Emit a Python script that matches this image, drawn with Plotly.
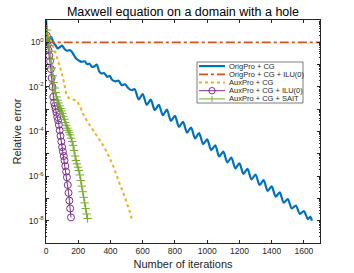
import plotly.graph_objects as go

# ---------------- data (error values as log10) ----------------
orig_cg_iter = [0, 6, 15, 25, 33, 45, 58, 72, 85, 100, 115, 130, 145, 160, 175, 190, 205, 220,
                240, 255, 270, 285, 300, 315, 330, 345, 360, 380, 395, 410, 430, 450, 470, 490,
                510, 530, 550, 575, 600, 625, 650, 675, 700, 725, 750, 775, 800, 825, 850, 875,
                900, 925, 950, 975, 1000, 1025, 1050, 1075, 1100, 1125, 1150, 1175, 1200, 1225,
                1250, 1275, 1300, 1325, 1350, 1375, 1400, 1425, 1450, 1475, 1500, 1525, 1550,
                1575, 1600, 1625, 1640, 1650]
orig_cg_log10 = [1.3, 0.3, 0.05, 0.1, 0.25, 0.0, -0.12, -0.28, -0.22, -0.15, -0.3, -0.38, -0.35,
                 -0.42, -0.6, -0.75, -0.82, -0.88, -0.85, -0.98, -0.96, -1.1, -1.08, -1.0, -1.3,
                 -1.4, -1.38, -1.55, -1.5, -1.68, -1.75, -1.72, -1.92, -1.88, -2.05, -2.15,
                 -2.1, -2.56, -2.32, -2.81, -2.57, -3.04, -2.8, -3.27, -3.02, -3.52, -3.3,
                 -3.79, -3.57, -4.05, -3.82, -4.31, -4.07, -4.57, -4.35, -4.84, -4.62, -5.12,
                 -4.9, -5.39, -5.17, -5.65, -5.43, -5.9, -5.68, -6.15, -5.93, -6.4, -6.18,
                 -6.66, -6.46, -6.92, -6.73, -7.19, -7.03, -7.45, -7.32, -7.7, -7.57, -7.93,
                 -7.83, -8.0]

orig_ilu_iter = [0, 5, 10, 50, 1700]
orig_ilu_log10 = [0.0, 0.02, 0.0, 0.0, 0.0]

aux_cg_iter = [0, 5, 12, 25, 40, 60, 80, 95, 110, 125, 140, 160, 190, 210, 230, 260, 300, 340,
               380, 420, 460, 490, 520, 535]
aux_cg_log10 = [0.0, 0.45, 0.3, 0.1, -0.1, -0.5, -0.95, -1.3, -1.75, -2.3, -2.5, -2.55, -2.62,
                -2.85, -3.2, -3.6, -4.0, -4.45, -4.95, -5.6, -6.4, -6.95, -7.6, -8.0]

aux_ilu_iter = [0, 5, 10, 15, 20, 25, 30, 35, 40, 45, 50, 55, 60, 65, 70, 75, 80, 85, 90, 95,
                100, 105, 110, 115, 120, 125, 130, 135, 140, 145, 150, 155]
aux_ilu_log10 = [0.0, 0.3, -0.1, -0.35, -0.6, -0.85, -1.2, -1.6, -2.0, -2.45, -2.7, -2.85,
                 -3.0, -3.15, -3.35, -3.5, -3.7, -3.95, -4.2, -4.45, -4.7, -4.9, -5.1, -5.3,
                 -5.55, -5.8, -6.05, -6.4, -6.75, -7.1, -7.45, -7.85]

aux_sait_iter = [0, 6, 12, 18, 24, 30, 36, 42, 48, 54, 60, 66, 72, 78, 84, 90, 96, 102, 108,
                 114, 120, 126, 132, 138, 144, 150, 156, 162, 168, 174, 180, 186, 192, 198,
                 204, 210, 216, 222, 228, 234, 240, 246, 252, 258]
aux_sait_log10 = [0.0, 0.55, 0.2, -0.15, -0.4, -0.75, -1.15, -1.5, -1.8, -2.05, -2.25, -2.45,
                  -2.6, -2.72, -2.85, -2.97, -3.08, -3.2, -3.32, -3.45, -3.6, -3.72, -3.85,
                  -3.95, -4.05, -4.15, -4.3, -4.45, -4.62, -4.85, -5.1, -5.3, -5.45, -5.6,
                  -5.75, -5.95, -6.2, -6.45, -6.7, -6.95, -7.2, -7.45, -7.7, -7.9]

series_names = ["OrigPro + CG", "OrigPro + CG + ILU(0)", "AuxPro + CG",
                "AuxPro + CG + ILU(0)", "AuxPro + CG + SAIT"]

x_tick_vals = [0, 200, 400, 600, 800, 1000, 1200, 1400, 1600]
y_tick_exps = [1, 0, -1, -2, -3, -4, -5, -6, -7, -8, -9]
y_label_exps = [0, -2, -4, -6, -8]

# ---------------- styling ----------------
C_BLUE, C_ORANGE, C_YELLOW, C_PURPLE, C_GREEN = "#0072BD", "#D95319", "#EDB120", "#7E2F8E", "#77AC30"
AX = "#262626"
FONT = "Liberation Sans, Arial, sans-serif"

W, H = 354, 273
ML, MR, MT, MB = 46, 34, 20, 30


def vals(exps):
    return [10.0 ** e for e in exps]


fig = go.Figure()
fig.add_trace(go.Scatter(x=orig_cg_iter, y=vals(orig_cg_log10), mode="lines",
                         line=dict(color=C_BLUE, width=2.2, shape="spline", smoothing=0.8),
                         name=series_names[0], showlegend=False))
fig.add_trace(go.Scatter(x=orig_ilu_iter, y=vals(orig_ilu_log10), mode="lines",
                         line=dict(color=C_ORANGE, width=1.8, dash="dashdot"),
                         name=series_names[1], showlegend=False))
fig.add_trace(go.Scatter(x=aux_cg_iter, y=vals(aux_cg_log10), mode="lines",
                         line=dict(color=C_YELLOW, width=2, dash="dot"),
                         name=series_names[2], showlegend=False))
fig.add_trace(go.Scatter(x=aux_ilu_iter, y=vals(aux_ilu_log10), mode="lines+markers",
                         line=dict(color=C_PURPLE, width=1),
                         marker=dict(symbol="circle-open", size=7, color=C_PURPLE,
                                     line=dict(width=1, color=C_PURPLE)),
                         name=series_names[3], showlegend=False))
fig.add_trace(go.Scatter(x=aux_sait_iter, y=vals(aux_sait_log10), mode="lines+markers",
                         line=dict(color=C_GREEN, width=1),
                         marker=dict(symbol="cross-thin-open", size=6, color=C_GREEN,
                                     line=dict(width=1, color=C_GREEN)),
                         name=series_names[4], showlegend=False))

# ---------------- custom MATLAB-like legend (compact) ----------------
PW, PH = W - ML - MR, H - MT - MB


def fx(px):
    return (px - ML) / PW


def fy(py):
    return (H - MB - py) / PH


shapes = []
annotations = []
box_l, box_r, box_t, box_b = 197, 303, 62, 103
shapes.append(dict(type="rect", xref="paper", yref="paper", x0=fx(box_l), x1=fx(box_r),
                   y0=fy(box_b), y1=fy(box_t), line=dict(color=AX, width=0.6),
                   fillcolor="white", layer="above"))
row_h = (box_b - box_t) / 5.0
styles = [(C_BLUE, 2.2, "solid", None), (C_ORANGE, 1.8, "dashdot", None),
          (C_YELLOW, 2, "dot", None), (C_PURPLE, 1, "solid", "o"), (C_GREEN, 1, "solid", "+")]
lx0, lx1, tx = 199, 225, 227
for i, (col, w, dash, mk) in enumerate(styles):
    yc = box_t + row_h * (i + 0.5)
    shapes.append(dict(type="line", xref="paper", yref="paper", x0=fx(lx0), x1=fx(lx1),
                       y0=fy(yc), y1=fy(yc), line=dict(color=col, width=w, dash=dash),
                       layer="above"))
    xm = (lx0 + lx1) / 2.0
    if mk == "o":
        r = 3.2
        shapes.append(dict(type="circle", xref="paper", yref="paper", x0=fx(xm - r),
                           x1=fx(xm + r), y0=fy(yc + r), y1=fy(yc - r),
                           line=dict(color=col, width=1), layer="above"))
    elif mk == "+":
        r = 3
        shapes.append(dict(type="line", xref="paper", yref="paper", x0=fx(xm), x1=fx(xm),
                           y0=fy(yc + r), y1=fy(yc - r), line=dict(color=col, width=1),
                           layer="above"))
    annotations.append(dict(text=series_names[i], xref="paper", yref="paper", x=fx(tx),
                            y=fy(yc), xanchor="left", yanchor="middle", showarrow=False,
                            font=dict(family=FONT, size=7.5, color=AX)))

fig.update_layout(
    width=W, height=H,
    margin=dict(l=ML, r=MR, t=MT, b=MB, autoexpand=False),
    paper_bgcolor="white", plot_bgcolor="white",
    font=dict(family=FONT, size=8.5, color=AX),
    title=dict(text="Maxwell equation on a domain with a hole", x=0.5, xref="paper",
               xanchor="center", y=(H - 12) / H, yref="container", yanchor="middle",
               font=dict(family=FONT, size=12.5, color="black")),
    showlegend=False,
    shapes=shapes,
    annotations=annotations,
)

fig.update_xaxes(range=[0, 1700], tickvals=x_tick_vals, ticks="inside", ticklen=3,
                 tickcolor=AX, showline=True, linecolor=AX, linewidth=0.6, mirror="ticks",
                 showgrid=False, zeroline=False, tickfont=dict(size=8.5, color=AX),
                 title=dict(text="Number of iterations", font=dict(size=11, color=AX),
                            standoff=5))
fig.update_yaxes(type="log", range=[-9, 1],
                 tickvals=[10.0 ** e for e in y_tick_exps],
                 ticktext=[("10<sup>%d</sup>" % e) if e in y_label_exps else "" for e in y_tick_exps],
                 ticks="inside", ticklen=3, tickcolor=AX, showline=True, linecolor=AX,
                 linewidth=0.6, mirror="ticks", showgrid=False, zeroline=False,
                 tickfont=dict(size=8.5, color=AX),
                 minor=dict(ticks="inside", ticklen=1.5, tickcolor=AX, dtick="D1",
                            showgrid=False),
                 title=dict(text="Relative error", font=dict(size=11, color=AX), standoff=4))

fig.write_html("out.html", config={"displayModeBar": False},
               post_script="document.body.style.margin='0';")
